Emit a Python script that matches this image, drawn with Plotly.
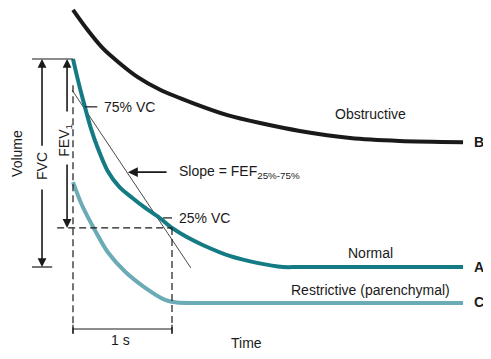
import numpy as np
import plotly.graph_objects as go

# ---- data (time in s, lung volume in L) ----
normal_t = [0, 0.03, 0.07, 0.12, 0.18, 0.25, 0.35, 0.47, 0.60, 0.73, 0.87, 1.0, 1.15, 1.31, 1.59, 1.86, 2.12, 2.29, 3.94]
normal_v = [6.50, 6.19, 5.80, 5.35, 4.84, 4.36, 3.81, 3.42, 3.16, 2.92, 2.69, 2.44, 2.22, 2.03, 1.76, 1.60, 1.50, 1.50, 1.50]

obstr_t = [0, 0.14, 0.30, 0.48, 0.65, 0.88, 1.21, 1.56, 1.89, 2.29, 2.80, 3.30, 3.94]
obstr_v = [7.68, 7.22, 6.76, 6.38, 6.07, 5.76, 5.44, 5.15, 4.96, 4.77, 4.60, 4.53, 4.50]

restr_t = [0, 0.09, 0.22, 0.35, 0.53, 0.73, 0.93, 1.05, 1.25, 3.94]
restr_v = [3.54, 2.99, 2.39, 1.86, 1.38, 1.00, 0.71, 0.645, 0.635, 0.635]

normal_rv = 1.5      # end volume of normal curve
normal_fvc = 5.0     # FVC of normal curve
fev1_time = 1.0

TEAL = "#147a83"
LTEAL = "#6aabb6"
BLACK = "#1a1a1a"
FONT = "Liberation Sans, Arial, sans-serif"

top_v = normal_rv + normal_fvc
v75 = normal_rv + 0.75 * normal_fvc
v25 = normal_rv + 0.25 * normal_fvc
nt = np.array(normal_t); nv = np.array(normal_v)
def t_at(v):
    return float(np.interp(v, nv[::-1], nt[::-1]))
t75, t25 = t_at(v75), t_at(v25)
fev1_v = float(np.interp(fev1_time, nt, nv))

fig = go.Figure()

# slope line through 75% and 25% VC points, extended
slope = (v25 - v75) / (t25 - t75)
def line_t(v):
    return t75 + (v - v75) / slope
sv = np.array([5.75, 1.48])
fig.add_trace(go.Scatter(x=line_t(sv), y=sv, mode="lines",
                         line=dict(color=BLACK, width=0.8), hoverinfo="skip"))

for t, v, c in [(obstr_t, obstr_v, BLACK), (normal_t, normal_v, TEAL), (restr_t, restr_v, LTEAL)]:
    fig.add_trace(go.Scatter(x=t, y=v, mode="lines",
                             line=dict(color=c, width=4, shape="spline", smoothing=0.8),
                             hoverinfo="skip"))

shapes = []
def line(x0, y0, x1, y1, dash="solid", w=1.2, color=BLACK):
    shapes.append(dict(type="line", xref="x", yref="y", x0=x0, y0=y0, x1=x1, y1=y1,
                       line=dict(color=color, width=w, dash=dash)))

bottom_v = -0.09
line(0, 5.87, 0, bottom_v, dash="7px,4px")
line(fev1_time, fev1_v, fev1_time, bottom_v, dash="7px,4px")
line(-0.16, fev1_v, fev1_time, fev1_v, dash="7px,4px")
bv = 0.01
line(0, bv, fev1_time, bv)
line(0, bv + 0.1, 0, bv - 0.12)
line(fev1_time, bv + 0.1, fev1_time, bv - 0.12)
line(-0.414, top_v, 0, top_v)
line(-0.414, normal_rv, -0.21, normal_rv)
line(0.12, 5.35, 0.245, 5.35)
line(0.91, 2.68, 1.0, 2.68)

annotations = []
def arrow(x, y, ax, ay, w=1.6):
    annotations.append(dict(x=x, y=y, ax=ax, ay=ay, xref="x", yref="y", axref="x", ayref="y",
                            text="", showarrow=True, arrowhead=2, arrowsize=1.1,
                            arrowwidth=w, arrowcolor=BLACK))
def text(x, y, s, size=14, xanchor="center", angle=0, bold=False):
    annotations.append(dict(x=x, y=y, xref="x", yref="y", text=(f"<b>{s}</b>" if bold else s),
                            showarrow=False, xanchor=xanchor, yanchor="middle", textangle=angle,
                            font=dict(family=FONT, size=size, color=BLACK)))

slope_lbl_v = 3.78
arrow(-0.313, top_v, -0.313, 4.38)
arrow(-0.313, normal_rv, -0.313, 3.40)
arrow(-0.06, top_v, -0.06, 5.20)
arrow(-0.06, fev1_v, -0.06, 4.00)
arrow(line_t(slope_lbl_v) + 0.01, slope_lbl_v, 0.96, slope_lbl_v, w=1.8)

text(-0.565, 4.22, "Volume", angle=-90)
text(-0.313, 3.93, "FVC", angle=-90)
text(-0.075, 4.55, "FEV<sub>1</sub>", angle=-90)
text(0.29, 5.35, "75% VC", xanchor="left")
text(1.05, slope_lbl_v, "Slope = FEF<sub>25%-75%</sub>", xanchor="left")
text(1.05, 2.68, "25% VC", xanchor="left")
text(3.0, 5.18, "Obstructive")
text(3.0, 1.84, "Normal")
text(3.0, 0.95, "Restrictive (parenchymal)")
text(4.10, 4.50, "B", bold=True)
text(4.10, 1.50, "A", bold=True)
text(4.10, 0.66, "C", bold=True)
text(0.48, -0.26, "1 s")
text(1.75, -0.32, "Time")

# page body has an 8px margin: the figure spans screen px 8..491 / 8..359
fig.update_layout(
    width=483, height=351, autosize=False,
    margin=dict(l=0, r=0, t=0, b=0),
    paper_bgcolor="white", plot_bgcolor="white",
    showlegend=False, shapes=shapes, annotations=annotations,
    xaxis=dict(range=[-0.6566, 4.2222], visible=False, fixedrange=True),
    yaxis=dict(range=[-0.7115, 7.726], visible=False, fixedrange=True),
)
fig.write_html("out.html")
